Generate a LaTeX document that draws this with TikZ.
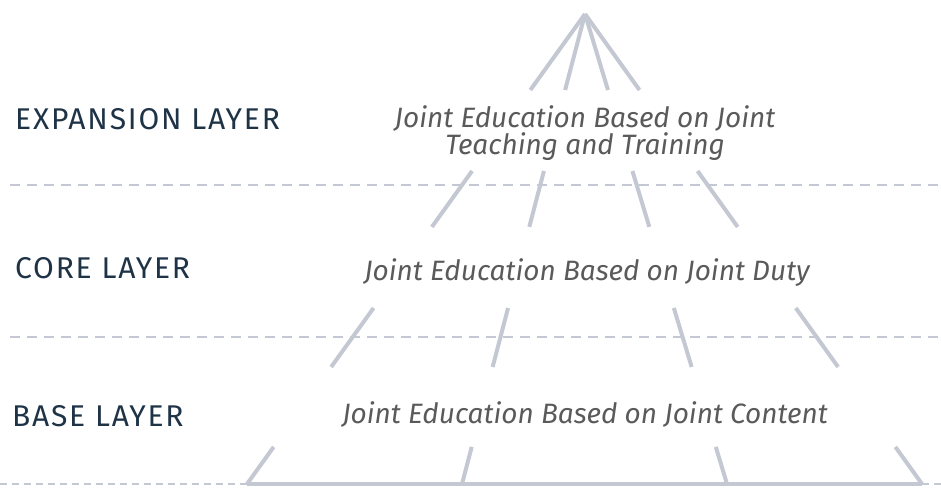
\documentclass[tikz,border=0pt]{standalone}
\usepackage{fontspec}
\setmainfont{Fira Sans}
\newfontfamily\layerfont{Fira Sans}[LetterSpace=6]
\newfontfamily\descfont{Fira Sans}
\usetikzlibrary{calc}
\definecolor{raygray}{HTML}{C4C8D2}
\definecolor{layerblue}{HTML}{1F3347}
\definecolor{desctext}{HTML}{5A5A5A}
\tikzset{
  ray/.style={draw=raygray, line width=4pt},
  sep/.style={draw=raygray, line width=2pt, dash pattern=on 10pt off 7pt},
  basesep/.style={draw=raygray, line width=1.2pt, dash pattern=on 7pt off 5pt},
  layer/.style={anchor=base west, inner sep=0pt, text=layerblue, font=\layerfont\fontsize{30}{36}\selectfont},
  desc/.style={anchor=base, inner sep=0pt, text=desctext, align=center, font=\descfont\itshape\fontsize{28}{27}\selectfont}
}

\begin{document}
\begin{tikzpicture}[x=1pt, y=-1pt]
  \useasboundingbox (0,0) rectangle (941,487);
  \coordinate (apex) at (585,14);
  \coordinate (f1) at (247,484);
  \coordinate (f2) at (462,484);
  \coordinate (f3) at (727,484);
  \coordinate (f4) at (922,484);
  \draw[sep] (10,185) -- (941,185);
  \draw[sep] (10,337) -- (941,337);
  \draw[basesep] (0,484) -- (f1);
  \draw[basesep] (f4) -- (941,484);
  \draw[ray] (apex) -- ($(apex)!0.1617!(f1)$);
  \draw[ray] (apex) -- ($(apex)!0.1617!(f2)$);
  \draw[ray] (apex) -- ($(apex)!0.1617!(f3)$);
  \draw[ray] (apex) -- ($(apex)!0.1617!(f4)$);
  \draw[ray] ($(apex)!0.334!(f1)$) -- ($(apex)!0.453!(f1)$);
  \draw[ray] ($(apex)!0.334!(f2)$) -- ($(apex)!0.453!(f2)$);
  \draw[ray] ($(apex)!0.334!(f3)$) -- ($(apex)!0.453!(f3)$);
  \draw[ray] ($(apex)!0.334!(f4)$) -- ($(apex)!0.453!(f4)$);
  \draw[ray] ($(apex)!0.6255!(f1)$) -- ($(apex)!0.751!(f1)$);
  \draw[ray] ($(apex)!0.6255!(f2)$) -- ($(apex)!0.751!(f2)$);
  \draw[ray] ($(apex)!0.6255!(f3)$) -- ($(apex)!0.751!(f3)$);
  \draw[ray] ($(apex)!0.6255!(f4)$) -- ($(apex)!0.751!(f4)$);
  \draw[ray] ($(apex)!0.921!(f1)$) -- (f1);
  \draw[ray] ($(apex)!0.921!(f2)$) -- (f2);
  \draw[ray] ($(apex)!0.921!(f3)$) -- (f3);
  \draw[ray] ($(apex)!0.921!(f4)$) -- (f4);
  \draw[ray] (f1) -- (f4);
  \node[layer] (expansion) at (15,129) {EXPANSION LAYER};
  \node[layer] (core) at (15,278) {CORE LAYER};
  \node[layer] (base) at (12,426) {BASE LAYER};
  \node[desc, anchor=center] (teaching) at (585,133) {Joint Education Based on Joint\\Teaching and Training};
  \node[desc] (duty) at (587,280) {Joint Education Based on Joint Duty};
  \node[desc] (content) at (585,423) {Joint Education Based on Joint Content};
\end{tikzpicture}
\end{document}
